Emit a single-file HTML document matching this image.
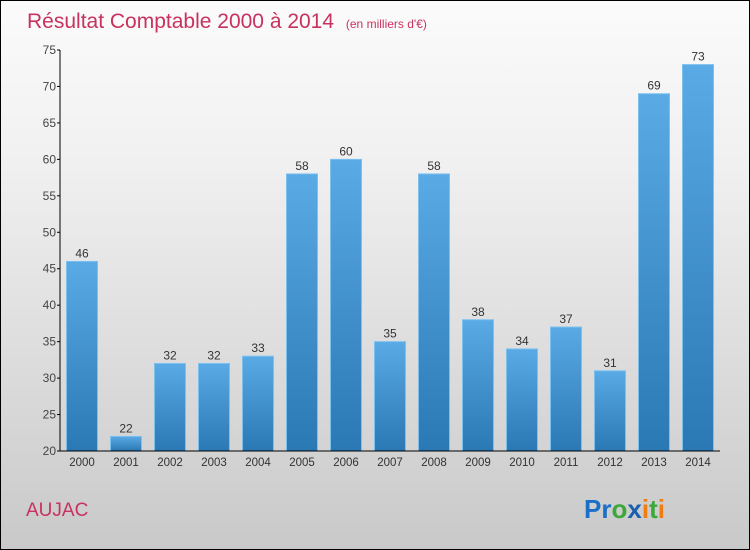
<!DOCTYPE html>
<html><head><meta charset="utf-8"><style>
body{margin:0;}
#wrap{width:748px;height:548px;border:1px solid #000;background:linear-gradient(#fbfbfb,#f0f0f0 30%,#c9c9c9);position:relative;overflow:hidden;font-family:"Liberation Sans",sans-serif;}
</style></head><body>
<div id="wrap">
<svg id="chart" width="748" height="548">
<defs><linearGradient id="bg" x1="0" y1="0" x2="0" y2="1"><stop offset="0" stop-color="#5aaae6"/><stop offset="1" stop-color="#2a78b4"/></linearGradient></defs>
<text x="26" y="27" font-size="21" fill="#c8325f">Résultat Comptable 2000 à 2014 <tspan font-size="12" dx="6">(en milliers d'€)</tspan></text>
<text x="25" y="515" font-size="19" fill="#c8325f">AUJAC</text>
<text x="583" y="517" font-size="26" font-weight="bold"><tspan fill="#1a6fc8">Pr</tspan><tspan fill="#3aa83a">o</tspan><tspan fill="#1a5fb0">x</tspan><tspan fill="#f07d10">i</tspan><tspan fill="#3aa83a">t</tspan><tspan fill="#f07d10">i</tspan></text>
<g id="plot"></g>
</svg>
</div>
<script>
const categories=["2000","2001","2002","2003","2004","2005","2006","2007","2008","2009","2010","2011","2012","2013","2014"];
const values=[46,22,32,32,33,58,60,35,58,38,34,37,31,69,73];
const yTicks=[20,25,30,35,40,45,50,55,60,65,70,75];
const ns="http://www.w3.org/2000/svg";
const g=document.getElementById('plot');
const x0=59,x1=719,yTop=49,yBot=450,vMin=20,vMax=75;
const step=(x1-x0)/categories.length;
const y=v=>yBot-(v-vMin)/(vMax-vMin)*(yBot-yTop);
const xc=i=>x0+step*(i+0.5);
function mk(t,a){const e=document.createElementNS(ns,t);for(const k in a)e.setAttribute(k,a[k]);g.appendChild(e);return e;}
values.forEach((v,i)=>{
 const r=mk('rect',{x:xc(i)-15.5,y:y(v),width:31,height:yBot-y(v),fill:'url(#bg)',stroke:'#7cc0f0','stroke-width':1});
 
 
 const t=mk('text',{x:xc(i),y:y(v)-4,'text-anchor':'middle','font-size':12,fill:'#333'});
 t.textContent=v;
 
 
 const l=mk('text',{x:xc(i),y:yBot+15,'text-anchor':'middle','font-size':11.5,fill:'#333'});
 l.textContent=categories[i];
 
 
});
yTicks.forEach(v=>{
 const tk=mk('line',{x1:x0-3,x2:x0,y1:y(v),y2:y(v),stroke:'#000'});
 
 
 const t=mk('text',{x:x0-4,y:y(v)+4,'text-anchor':'end','font-size':12,fill:'#444'});
 t.textContent=v;
 
 
});
const ya=mk('line',{x1:x0,x2:x0,y1:yTop,y2:yBot,stroke:'#000'});


const xa=mk('line',{x1:x0,x2:x1,y1:yBot,y2:yBot,stroke:'#000'});


</script>
</body></html>
